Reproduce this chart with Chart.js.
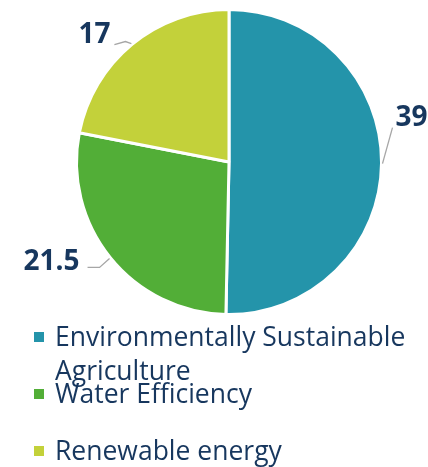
<!DOCTYPE html>
<html>
<head>
<meta charset="utf-8">
<script src="https://cdn.jsdelivr.net/npm/chart.js@4.4.1/dist/chart.umd.min.js"></script>
<style>
  html, body { margin: 0; padding: 0; background: #fff; }
  #wrap { width: 428px; height: 467px; }
</style>
</head>
<body>
<div id="wrap"><canvas id="pieChart"></canvas></div>
<script>
// ===== DATA =====
const categories = ['Environmentally Sustainable Agriculture', 'Water Efficiency', 'Renewable energy'];
const values = [39, 21.5, 17];
const valueLabels = ['39', '21.5', '17'];
const colors = ['#2494aa', '#52ae37', '#c3d13a'];

const textColor = '#17375e';

// leader line + label placement per slice (offsets from the slice edge)
const labelPlace = [
    { elbow: [10, -36], end: [10, -36], text: [29, -46] },
    { elbow: [-10, 9], end: [-22, 9], text: [-58, 4] },
    { elbow: [-6, -2], end: [-17, 1], text: [-37, -8] }
];

// ===== VALUE LABELS WITH LEADER LINES =====
const valueLabelPlugin = {
    id: 'valueLabels',
    afterDatasetsDraw(chart) {
        const ctx = chart.ctx;
        const arcs = chart.getDatasetMeta(0).data;
        ctx.save();
        arcs.forEach((arc, i) => {
            const mid = (arc.startAngle + arc.endAngle) / 2;
            const px = arc.x + Math.cos(mid) * (arc.outerRadius + 1);
            const py = arc.y + Math.sin(mid) * (arc.outerRadius + 1);
            const p = labelPlace[i];
            ctx.beginPath();
            ctx.moveTo(px, py);
            ctx.lineTo(px + p.elbow[0], py + p.elbow[1]);
            ctx.lineTo(px + p.end[0], py + p.end[1]);
            ctx.strokeStyle = '#a6a6a6';
            ctx.lineWidth = 1.3;
            ctx.stroke();
            ctx.fillStyle = textColor;
            ctx.font = 'bold 28px "Open Sans", sans-serif';
            ctx.textAlign = 'center';
            ctx.textBaseline = 'middle';
            ctx.fillText(valueLabels[i], px + p.text[0], py + p.text[1]);
        });
        ctx.restore();
    }
};

// ===== LEGEND (wraps long names, fixed row pitch) =====
const legendPlugin = {
    id: 'bottomLegend',
    afterDraw(chart) {
        const ctx = chart.ctx;
        const left = 34, textX = 55, firstBaseline = 346, rowPitch = 57, lineHeight = 34, maxW = 370;
        ctx.save();
        ctx.font = '26.5px "Open Sans", sans-serif';
        ctx.textAlign = 'left';
        ctx.textBaseline = 'alphabetic';
        chart.data.labels.forEach((name, i) => {
            const base = firstBaseline + i * rowPitch;
            // wrap words
            const lines = [];
            let cur = '';
            name.split(' ').forEach(w => {
                const test = cur ? cur + ' ' + w : w;
                if (ctx.measureText(test).width > maxW && cur) { lines.push(cur); cur = w; }
                else cur = test;
            });
            lines.push(cur);
            ctx.fillStyle = colors[i];
            ctx.fillRect(left, base - 14, 10, 10);
            ctx.fillStyle = textColor;
            lines.forEach((ln, k) => ctx.fillText(ln, textX, base + k * lineHeight));
        });
        ctx.restore();
    }
};

new Chart(document.getElementById('pieChart'), {
    type: 'pie',
    data: {
        labels: categories,
        datasets: [{
            data: values,
            backgroundColor: colors,
            borderColor: '#ffffff',
            borderWidth: 3
        }]
    },
    options: {
        responsive: true,
        maintainAspectRatio: false,
        animation: false,
        layout: { padding: { left: 75, right: 45, top: 8, bottom: 151 } },
        plugins: {
            legend: { display: false },
            tooltip: { enabled: false }
        }
    },
    plugins: [valueLabelPlugin, legendPlugin]
});
</script>
</body>
</html>
